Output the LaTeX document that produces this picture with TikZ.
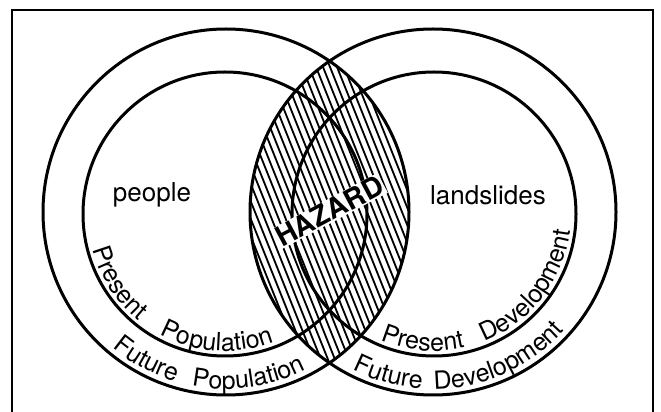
\documentclass[tikz,border=0pt]{standalone}
\usepackage{fontspec}
\setmainfont{TeX Gyre Heros}
\usetikzlibrary{decorations.text}

\begin{document}
\begin{tikzpicture}[%
      x=1pt, y=1pt,
      ring/.style={line width=3pt},
      arclabel/.style={decorate, decoration={text along path,
        text align={fit to path stretching spaces}}},
      ]
      \useasboundingbox (0,0) rectangle (661,412);
      \draw [line width=1.6pt] (12,0) -- (12,402) -- (653,402) -- (653,0);

      \coordinate (popout) at (226,200);
      \coordinate (popin) at (225,198);
      \coordinate (devout) at (433,200);
      \coordinate (devin) at (434,198);

      % hatching of the overlap
      \begin{scope}
        \clip (popout) circle (183pt);
        \clip (devout) circle (183pt);
        \foreach \x in {160,167,...,500}
          \draw [line width=1.8pt] (\x-80,410) -- (\x+80,10);
      \end{scope}

      \draw [ring] (popout) circle (183pt);
      \draw [ring] (popin) circle (142pt);
      \draw [ring] (devout) circle (183pt);
      \draw [ring] (devin) circle (142pt);

      \node [fill=white, inner sep=1pt, rotate=28,
        font=\bfseries\fontsize{28}{28}\selectfont] (hazard) at (329.5,201) {HAZARD};

      \node [font=\fontsize{26}{26}\selectfont] (people) at (152,217) {people};
      \node [font=\fontsize{26}{26}\selectfont] (landslides) at (488,217) {landslides};

      \path [arclabel, decoration={text={|\fontsize{25}{25}\selectfont|Present Population}}]
        (popin) ++(195:137pt) arc [start angle=195, end angle=291, radius=137pt];
      \path [arclabel, decoration={text={|\fontsize{25}{25}\selectfont|Future Population}}]
        (popout) ++(230:177pt) arc [start angle=230, end angle=297, radius=177pt];
      \path [arclabel, decoration={text={|\fontsize{25}{25}\selectfont|Present Development}}]
        (devin) ++(247:137pt) arc [start angle=247, end angle=353, radius=137pt];
      \path [arclabel, decoration={text={|\fontsize{25}{25}\selectfont|Future Development}}]
        (devout) ++(243:177pt) arc [start angle=243, end angle=318, radius=177pt];
\end{tikzpicture}
\end{document}
